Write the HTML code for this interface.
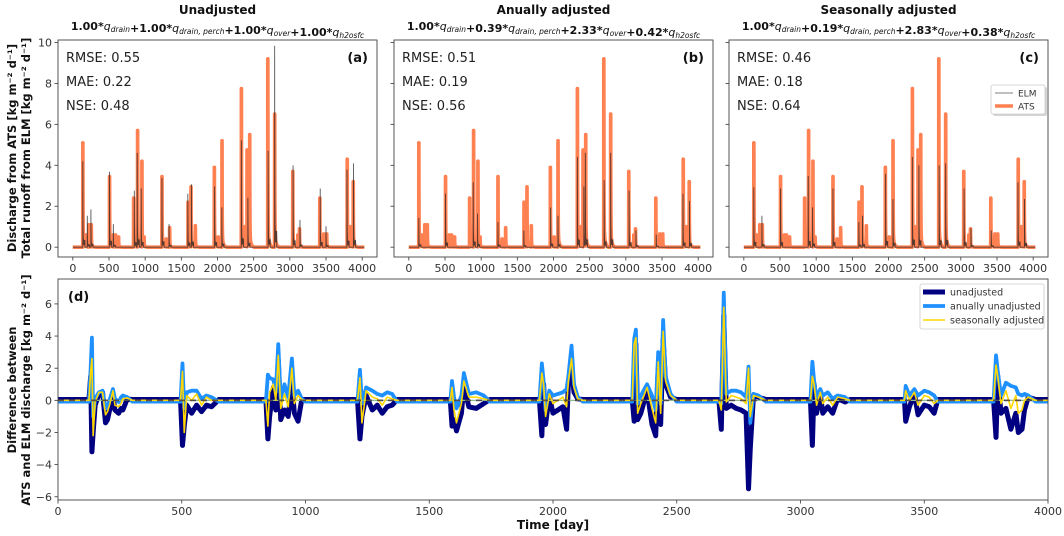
<!DOCTYPE html>
<html><head><meta charset="utf-8">
<style>
html,body{margin:0;padding:0;background:#fff;}
svg{display:block;font-family:"DejaVu Sans","Liberation Sans",sans-serif;}
</style></head>
<body>
<svg id="fig" width="1064" height="536" viewBox="0 0 1064 536" xmlns="http://www.w3.org/2000/svg"></svg>
<script>
// ---------- data ----------
const atsDays    = [138,175,220,255,507,560,590,632,840,895,955,985,1232,1290,1338,1592,1633,1693,1956,2010,2062,2330,2380,2408,2445,2695,2790,3040,3110,3133,3414,3470,3510,3793,3840,3876];
const atsPeaks   = [5.1,0.6,1.1,1.1,3.45,0.6,0.6,0.5,2.4,5.7,4.2,0.5,3.45,0.4,0.95,2.2,2.95,1.05,3.9,0.5,5.2,7.75,1.0,4.75,5.5,9.2,6.5,3.7,0.6,0.9,2.4,0.65,0.65,4.3,1.0,3.2];
const elmDaysA   = [138,200,250,507,560,850,890,945,1232,1330,1590,1640,1960,2060,2330,2420,2700,2790,3045,3140,3420,3500,3790,3880];
const elmPeaksA  = [4.1,1.5,1.8,3.6,1.1,2.7,4.5,2.8,3.3,1.1,2.55,3.0,2.9,1.9,5.1,2.35,4.6,9.6,3.9,1.3,2.8,1.0,3.7,4.0];
const elmDaysB   = [138,507,890,950,1232,1590,1960,2062,2330,2420,2440,2700,2790,3045,3140,3420,3790,3880];
const elmPeaksB  = [1.4,2.55,3.1,1.6,1.2,0.8,1.9,1.5,4.3,2.9,4.5,3.2,4.5,2.7,0.8,0.6,2.55,2.2];
const elmDaysC   = [138,250,507,890,950,1232,1590,1640,1960,2062,2330,2420,2700,2790,3045,3140,3420,3790,3880];
const elmPeaksC  = [2.85,1.5,2.8,3.4,1.9,2.8,1.2,1.5,3.5,2.3,4.3,3.9,3.9,4.0,2.8,0.9,0.8,3.1,2.3];
const topYTicks  = [0,2,4,6,8,10];
const topXTicks  = [0,500,1000,1500,2000,2500,3000,3500,4000];
const panelTitles = ["Unadjusted","Anually adjusted","Seasonally adjusted"];
const panelCoefs  = [["1.00","1.00","1.00","1.00"],["1.00","0.39","2.33","0.42"],["1.00","0.19","2.83","0.38"]];
const panelRMSE   = ["0.55","0.51","0.46"];
const panelMAE    = ["0.22","0.19","0.18"];
const panelNSE    = ["0.48","0.56","0.64"];
const panelTags   = ["(a)","(b)","(c)"];

const diffDays = [0,125,132,137,142,150,165,180,192,200,210,222,230,245,255,262,280,300,495,503,510,520,540,560,580,600,620,650,840,848,855,870,880,890,900,915,930,945,955,970,985,1000,1210,1220,1228,1245,1270,1290,1310,1330,1350,1370,1585,1592,1600,1610,1630,1640,1660,1690,1720,1745,1945,1955,1962,1970,1985,2000,2020,2040,2055,2062,2075,2085,2100,2120,2320,2328,2335,2342,2355,2380,2400,2415,2425,2435,2445,2455,2475,2500,2670,2680,2690,2700,2720,2740,2760,2780,2790,2797,2810,2830,2860,3040,3048,3055,3065,3080,3090,3110,3130,3150,3180,3200,3420,3425,3440,3460,3475,3500,3520,3540,3555,3780,3790,3797,3810,3830,3850,3870,3880,3895,3905,3920,3950,4000];
const diffUnadj = [0.05,0.05,1.5,-3.2,-2.0,-0.3,0.4,0.5,-1.4,-1.2,-0.5,0.3,-0.6,-0.8,-0.5,-0.6,0.1,0.05,0.05,-2.8,-1.6,-0.3,-0.8,-0.3,-0.7,-0.3,-0.4,0.05,0.05,-2.4,-1.0,0.8,-0.6,2.5,-1.2,-0.6,-1.0,1.0,-0.8,-1.3,0.05,0.05,0.05,-2.4,-1.0,0.3,-0.6,-0.3,-0.8,-0.4,-0.3,0.05,0.05,-1.6,-1.2,-1.9,-0.8,0.9,-0.4,-0.5,-0.2,0.05,0.05,-2.2,1.0,-1.5,0.3,-0.8,-0.6,-0.4,-1.8,1.0,2.0,0.5,0.1,0.05,0.05,-1.3,3.5,-1.2,-0.8,0.6,-1.5,-2.2,2.0,-1.5,3.8,1.0,0.2,0.05,0.05,-1.8,5.3,-0.5,-0.3,-0.5,-0.6,-0.8,-5.5,-3.0,0.3,0.2,0.05,0.05,-2.8,1.0,-0.8,0.4,-0.8,-0.4,-0.8,0.1,-0.1,0.05,0.05,-1.3,-0.4,0.4,-0.9,-0.3,-0.4,-0.8,0.05,0.05,-2.3,1.5,-0.8,-0.5,-1.8,-0.8,-2.0,-1.8,-0.6,0.2,0.05,0.05];
const diffAnnual = [-0.08,-0.08,2.0,3.9,-1.0,0.1,0.5,0.6,-0.5,-0.4,0.1,0.7,0.1,-0.1,0.2,0.3,0.2,-0.08,-0.08,2.3,-0.5,0.5,0.6,0.6,0.1,0.3,0.2,-0.08,-0.08,1.6,1.4,1.3,0.5,3.5,0.0,1.0,0.2,2.6,0.3,0.6,0.1,-0.08,-0.08,1.9,-0.2,0.8,0.6,0.4,0.3,0.5,0.4,-0.08,-0.08,1.2,0.2,-0.5,0.3,1.7,0.4,0.5,0.3,-0.08,-0.08,2.3,1.2,-0.6,0.6,0.3,0.4,0.5,0.7,1.5,3.4,1.0,0.2,-0.08,-0.08,3.8,4.4,-0.2,0.3,1.0,0.3,-0.6,3.0,-0.2,5.0,1.5,0.4,-0.08,-0.08,-0.2,6.7,0.4,0.6,0.6,0.5,0.2,2.1,-1.4,0.4,0.3,-0.08,-0.08,2.4,1.2,0.2,0.7,0.3,0.5,0.1,0.3,0.2,-0.08,-0.08,0.9,0.3,0.7,0.3,0.6,0.5,0.3,-0.08,-0.08,2.8,1.8,0.3,1.1,0.9,0.8,0.4,0.3,0.4,0.3,-0.08,-0.08];
const diffSeason = [0,0,1.8,2.6,-2.2,-0.1,0.5,0.5,-0.9,-0.7,-0.2,0.6,-0.3,-0.4,-0.2,0.1,0.15,0,0,1.8,-2.0,0.3,0.0,0.4,-0.3,0.2,0.0,0,0,-1.6,0.5,1.0,0.0,2.8,-0.5,0.4,-0.4,2.0,-0.2,0.3,0.05,0,0,1.4,-1.4,0.6,0.2,0.1,-0.3,0.2,0.1,0,0,0.8,-0.6,-1.4,-0.2,1.2,0.2,0.2,0.1,0,0,1.7,1.0,-1.0,0.4,-0.2,0.0,0.2,-0.4,1.2,2.6,0.8,0.1,0,0,3.5,3.9,-0.8,-0.2,0.8,-0.5,-1.4,2.4,-0.8,4.3,1.2,0.3,0,0,-0.6,5.8,-0.1,0.3,0.2,0.1,-0.2,2.0,-1.0,0.3,0.2,0,0,1.5,1.0,-0.3,0.5,-0.2,0.2,-0.3,0.2,0.1,0,0,0.6,0.0,0.5,-0.3,0.3,0.2,-0.2,0,0,2.2,1.5,-0.2,0.6,-0.5,0.3,-0.8,-0.6,0.0,0.2,0,0];
const botYTicks = [-6,-4,-2,0,2,4,6];
const botXTicks = [0,500,1000,1500,2000,2500,3000,3500,4000];
const legendLabels = ["unadjusted","anually unadjusted","seasonally adjusted"];

// ---------- helpers ----------
const NS="http://www.w3.org/2000/svg";
const fig=document.getElementById('fig');
function mk(tag,attrs,parent){const e=document.createElementNS(NS,tag);for(const k in attrs)e.setAttribute(k,attrs[k]);(parent||fig).appendChild(e);return e;}
function txt(s,attrs,parent){const e=mk('text',attrs,parent);e.textContent=s;return e;}

function atsSeries(days,peaks){const v=new Array(4031).fill(0);
  for(let i=0;i<days.length;i++){const d=days[i],h=peaks[i];
    for(let t=-1;t<60;t++){const x=d+t;if(x<0||x>4030)continue;let y;
      if(t<0)y=h*0.3;else if(t<=1)y=h;else y=h*(0.75*Math.exp(-(t-1)/2)+0.12*Math.exp(-(t-1)/15));
      if(y>v[x])v[x]=y;}}
  return v;}
function elmSeries(days,peaks){const v=new Array(4031).fill(0);
  for(let i=0;i<days.length;i++){const d=days[i],h=peaks[i];
    for(let t=0;t<40;t++){const x=d+t;if(x>4030)continue;const y=h*Math.exp(-t/2)+(t<30?0.08*h*((t%3)?1:0.3):0);
      if(y>v[x])v[x]=y;}}
  return v;}

// ---------- top panels ----------
const panelLeft=[58,394,729];
const PW=319, PT=40, PB=257;
const xDom=[-205,4205], yDom=[-0.48,10.12];
panelLeft.forEach((L,p)=>{
  const g=mk('g',{});
  
  
  const X=d=>L+(d-xDom[0])/(xDom[1]-xDom[0])*PW;
  const Y=v=>PB-(v-yDom[0])/(yDom[1]-yDom[0])*(PB-PT);
  const cx=L+PW/2;
  const t1=txt(panelTitles[p],{x:cx,y:14,'text-anchor':'middle','font-size':'12','font-weight':'bold',fill:'#111'},g);
  
  
  const f=mk('text',{x:cx,y:30,'text-anchor':'middle','font-size':'11',fill:'#111'},g);
  
  
  const subs=['drain','drain, perch','over','h2osfc'];
  subs.forEach((s,i)=>{
    const b=mk('tspan',{'font-weight':'bold'},f);b.textContent=(i?'+':'')+panelCoefs[p][i]+'*';
    const q=mk('tspan',{'font-style':'italic'},f);q.textContent='q';
    const sb=mk('tspan',{'font-style':'italic','font-size':'7.5','dy':'2'},f);sb.textContent=s;
    const r=mk('tspan',{'dy':'-2'},f);r.textContent='';
  });
  topYTicks.forEach(v=>{const y=Y(v);
    mk('line',{x1:L-3.5,x2:L,y1:y,y2:y,stroke:'#333','stroke-width':0.8},g);
    if(p===0){const t=txt(String(v),{x:L-6,y:y+4,'text-anchor':'end','font-size':'11',fill:'#333'},g);
      
      }
  });
  topXTicks.forEach(v=>{const x=X(v);
    mk('line',{x1:x,x2:x,y1:PB,y2:PB+3.5,stroke:'#333','stroke-width':0.8},g);
    const t=txt(String(v),{x:x,y:PB+15,'text-anchor':'middle','font-size':'11',fill:'#333'},g);
    
    
  });
  const ats=atsSeries(atsDays,atsPeaks);
  const ed=[elmDaysA,elmDaysB,elmDaysC][p], ep=[elmPeaksA,elmPeaksB,elmPeaksC][p];
  const elm=elmSeries(ed,ep);
  let d1='',d2='';
  for(let i=0;i<=4030;i++){d1+=(i?'L':'M')+X(i).toFixed(2)+','+Y(ats[i]).toFixed(2);d2+=(i?'L':'M')+X(i).toFixed(2)+','+Y(elm[i]).toFixed(2);}
  const pa=mk('path',{d:d1,fill:'none',stroke:'#ff6a33','stroke-opacity':0.85,'stroke-width':3.6,'stroke-linejoin':'round'},g);
  
  
  const pe=mk('path',{d:d2,fill:'none',stroke:'#222','stroke-opacity':0.75,'stroke-width':0.9},g);
  
  
  mk('rect',{x:L,y:PT,width:PW,height:PB-PT,fill:'none',stroke:'#444','stroke-width':0.9},g);
  const stats=[['RMSE: ',panelRMSE[p]],['MAE: ',panelMAE[p]],['NSE: ',panelNSE[p]]];
  stats.forEach((s,i)=>{const t=txt(s[0]+s[1],{x:L+8,y:PT+22+i*24,'font-size':'13',fill:'#222'},g);
    
    });
  const tg=txt(panelTags[p],{x:L+PW-9,y:PT+22,'text-anchor':'end','font-size':'13','font-weight':'bold',fill:'#111'},g);
  
  
  if(p===2){
    const lg=mk('g',{},g);
    
    
    mk('rect',{x:993,y:87,width:54,height:29,fill:'#aaa',opacity:0.5,rx:2},lg);
    mk('rect',{x:991,y:85,width:54,height:29,fill:'#fff',stroke:'#ccc','stroke-width':0.8,rx:2},lg);
    mk('line',{x1:995,x2:1013,y1:93,y2:93,stroke:'#999','stroke-width':1.2},lg);
    mk('line',{x1:995,x2:1013,y1:106,y2:106,stroke:'#ff6a33','stroke-opacity':0.85,'stroke-width':3.5},lg);
    const a=txt('ELM',{x:1018,y:96.5,'font-size':'9',fill:'#333'},lg);
    
    
    const b=txt('ATS',{x:1018,y:109.5,'font-size':'9',fill:'#333'},lg);
    
    
  }
});
const yl1=txt('Discharge from ATS [kg m\u207B\u00B2 d\u207B\u00B9]',{x:0,y:0,'text-anchor':'middle','font-size':'11.5','font-weight':'bold',fill:'#111',transform:'translate(16,148) rotate(-90)'});


const yl2=txt('Total runoff from ELM [kg m\u207B\u00B2 d\u207B\u00B9]',{x:0,y:0,'text-anchor':'middle','font-size':'11.5','font-weight':'bold',fill:'#111',transform:'translate(30,148) rotate(-90)'});



// ---------- bottom panel ----------
(function(){
  const L=58,R=1048,T=279,B=500;
  const yD=[-6.2,7.55];
  const X=d=>L+d/4000*(R-L);
  const Y=v=>B-(v-yD[0])/(yD[1]-yD[0])*(B-T);
  const g=mk('g',{});
  
  
  botYTicks.forEach(v=>{const y=Y(v);
    mk('line',{x1:L-3.5,x2:L,y1:y,y2:y,stroke:'#333','stroke-width':0.8},g);
    const t=txt(v<0?'\u2212'+Math.abs(v):String(v),{x:L-6,y:y+4,'text-anchor':'end','font-size':'11',fill:'#333'},g);
    
    });
  botXTicks.forEach(v=>{const x=X(v);
    mk('line',{x1:x,x2:x,y1:B,y2:B+3.5,stroke:'#333','stroke-width':0.8},g);
    const t=txt(String(v),{x:x,y:B+15,'text-anchor':'middle','font-size':'11',fill:'#333'},g);
    
    });
  function path(vals){let d='';for(let i=0;i<diffDays.length;i++){d+=(i?'L':'M')+X(diffDays[i]).toFixed(2)+','+Y(vals[i]).toFixed(2);}return d;}
  const pu=mk('path',{d:path(diffUnadj),fill:'none',stroke:'#000080','stroke-width':5,'stroke-linejoin':'round'},g);
  
  
  const pn=mk('path',{d:path(diffAnnual),fill:'none',stroke:'#1e90ff','stroke-width':3.8,'stroke-linejoin':'round'},g);
  
  
  mk('line',{x1:L,x2:R,y1:Y(0),y2:Y(0),stroke:'#8fbc8f','stroke-width':1.2},g);
  const ps=mk('path',{d:path(diffSeason),fill:'none',stroke:'#ffd700','stroke-width':1.6,'stroke-linejoin':'round'},g);
  
  
  const zl=mk('line',{x1:L,x2:R,y1:Y(0),y2:Y(0),stroke:'#3a2a3a','stroke-width':1.8,'stroke-dasharray':'6,5','stroke-opacity':0.75},g);
  
  
  mk('rect',{x:L,y:T,width:R-L,height:B-T,fill:'none',stroke:'#444','stroke-width':0.9},g);
  const tg=txt('(d)',{x:L+10,y:T+22,'font-size':'13','font-weight':'bold',fill:'#111'},g);
  
  
  const lg=mk('g',{},g);
  
  
  mk('rect',{x:920,y:284,width:124,height:45,fill:'#fff',stroke:'#ccc','stroke-width':0.8,rx:2},lg);
  const cols=['#000080','#1e90ff','#ffd700'], ws=[5,3.8,1.6];
  legendLabels.forEach((s,i)=>{const y=292+i*14;
    mk('line',{x1:923,x2:945,y1:y,y2:y,stroke:cols[i],'stroke-width':ws[i]},lg);
    const t=txt(s,{x:950,y:y+3.5,'font-size':'9.5',fill:'#333'},lg);
    
    });
  const xl=txt('Time [day]',{x:(L+R)/2,y:529,'text-anchor':'middle','font-size':'12','font-weight':'bold',fill:'#111'});
  
  
  const b1=txt('Difference between',{x:0,y:0,'text-anchor':'middle','font-size':'11.5','font-weight':'bold',fill:'#111',transform:'translate(16,390) rotate(-90)'});
  
  
  const b2=txt('ATS and ELM discharge [kg m\u207B\u00B2 d\u207B\u00B9]',{x:0,y:0,'text-anchor':'middle','font-size':'11.5','font-weight':'bold',fill:'#111',transform:'translate(30,390) rotate(-90)'});
  
  
})();
</script>
</body></html>
